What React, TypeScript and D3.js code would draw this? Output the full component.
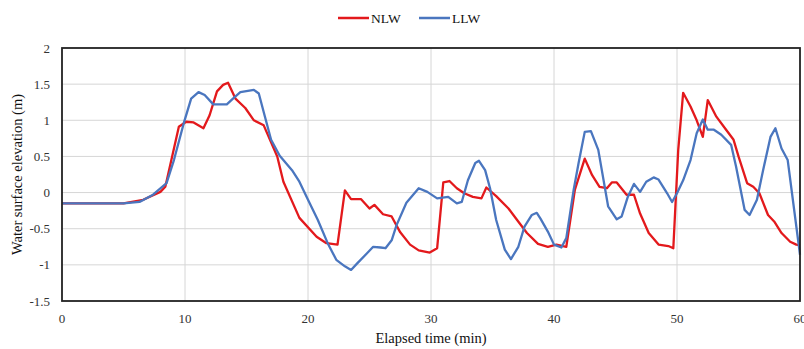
import React from "react";
import * as d3 from "d3";

const width = 804;
const height = 349;
const margin = { left: 62, right: 4, top: 48, bottom: 48 };

// NLW series (time in min, elevation in m)
const nlwTime = [0, 5, 6.6, 8, 8.4, 9.5, 10.1, 10.7, 11.5, 12, 12.6, 13.1, 13.5, 14.1, 14.9, 15.6, 16.4, 17.5, 18, 19.3, 20.7, 21.5, 22.4, 23, 23.5, 24.3, 25, 25.4, 26.1, 26.8, 27.5, 28.3, 29, 29.9, 30.5, 31, 31.5, 32.1, 32.7, 33.4, 34.1, 34.5, 35.3, 36.3, 37, 37.8, 38.7, 39.5, 40.2, 41, 41.7, 42.5, 43.1, 43.7, 44.3, 44.7, 45.1, 45.9, 46.5, 47, 47.7, 48.5, 49.3, 49.7, 50.1, 50.5, 51.1, 51.6, 52.1, 52.5, 53.2, 53.9, 54.6, 55, 55.7, 56.2, 56.7, 57.4, 57.9, 58.5, 59.2, 59.7, 60];
const nlwLevel = [-0.15, -0.15, -0.1, 0.01, 0.08, 0.91, 0.98, 0.97, 0.89, 1.07, 1.4, 1.49, 1.52, 1.3, 1.17, 1.0, 0.93, 0.5, 0.15, -0.35, -0.61, -0.7, -0.72, 0.03, -0.09, -0.09, -0.22, -0.17, -0.3, -0.33, -0.55, -0.72, -0.8, -0.83, -0.77, 0.14, 0.16, 0.06, -0.01, -0.06, -0.08, 0.07, -0.05, -0.22, -0.38, -0.56, -0.71, -0.75, -0.72, -0.75, 0.04, 0.47, 0.24, 0.08, 0.06, 0.14, 0.14, -0.03, -0.03, -0.29, -0.56, -0.72, -0.74, -0.77, 0.59, 1.38, 1.19, 1.0, 0.77, 1.28, 1.05, 0.89, 0.73, 0.5, 0.13, 0.08, -0.01, -0.31, -0.4, -0.56, -0.68, -0.72, -0.73];

// LLW series
const llwTime = [0, 5, 6.3, 7.4, 8.5, 9.1, 9.9, 10.5, 11.1, 11.6, 12.3, 13.4, 13.9, 14.5, 15.6, 16, 16.5, 17, 17.7, 18.7, 19.3, 20, 20.8, 21.6, 22.3, 23, 23.5, 24, 24.8, 25.3, 25.9, 26.3, 26.8, 27.2, 28, 29, 29.7, 30.5, 31.4, 32.1, 32.5, 33, 33.6, 33.9, 34.4, 34.8, 35.3, 36, 36.5, 37.1, 37.6, 38.2, 38.6, 38.9, 39.5, 40, 40.6, 41, 41.6, 42, 42.5, 43, 43.6, 44.4, 45.1, 45.5, 46, 46.5, 47, 47.5, 48.1, 48.5, 49.2, 49.6, 50, 50.5, 51.1, 51.6, 52.1, 52.5, 53, 53.6, 54.4, 54.8, 55.5, 55.9, 56.5, 57, 57.6, 58, 58.5, 59, 60];
const llwLevel = [-0.15, -0.15, -0.13, -0.03, 0.13, 0.45, 0.96, 1.3, 1.39, 1.35, 1.22, 1.22, 1.3, 1.39, 1.42, 1.37, 1.05, 0.73, 0.51, 0.31, 0.15, -0.1, -0.38, -0.7, -0.93, -1.02, -1.07, -0.98, -0.84, -0.75, -0.76, -0.77, -0.66, -0.45, -0.14, 0.06, 0.01, -0.08, -0.06, -0.15, -0.13, 0.17, 0.41, 0.44, 0.31, 0.06, -0.38, -0.79, -0.92, -0.75, -0.47, -0.31, -0.28, -0.36, -0.54, -0.72, -0.76, -0.63, 0.04, 0.41, 0.84, 0.85, 0.59, -0.19, -0.37, -0.33, -0.06, 0.12, 0.01, 0.15, 0.21, 0.18, -0.01, -0.13, -0.01, 0.17, 0.45, 0.82, 1.01, 0.87, 0.87, 0.8, 0.66, 0.36, -0.24, -0.31, -0.1, 0.31, 0.77, 0.89, 0.61, 0.45, -0.86];

const xTicks = [0, 10, 20, 30, 40, 50, 60];
const yTicks = [-1.5, -1, -0.5, 0, 0.5, 1, 1.5, 2];

const series = [
  { name: "NLW", color: "#e3191c", time: nlwTime, level: nlwLevel },
  { name: "LLW", color: "#4a76bf", time: llwTime, level: llwLevel },
];

const font = "'Liberation Serif', 'Times New Roman', serif";

export default function App() {
  const x = d3.scaleLinear().domain([0, 60]).range([margin.left, width - margin.right]);
  const y = d3.scaleLinear().domain([-1.5, 2]).range([height - margin.bottom, margin.top]);

  const line = d3
    .line<[number, number]>()
    .x((d) => x(d[0]))
    .y((d) => y(d[1]));

  return (
    <svg
      width={width}
      height={height}
      style={{ position: "absolute", left: 0, top: 0, background: "#fff" }}
      fontFamily={font}
    >
      {/* grid */}
      {yTicks.slice(1, -1).map((t) => (
        <line key={"gy" + t} x1={x(0)} x2={x(60)} y1={y(t)} y2={y(t)} stroke="#d6d6d6" strokeWidth={1} />
      ))}
      {xTicks.slice(1, -1).map((t) => (
        <line key={"gx" + t} x1={x(t)} x2={x(t)} y1={y(2)} y2={y(-1.5)} stroke="#d6d6d6" strokeWidth={1} />
      ))}

      {/* series */}
      {series.map((s) => (
        <path
          key={s.name}
          d={line(s.time.map((t, i) => [t, s.level[i]] as [number, number])) || ""}
          fill="none"
          stroke={s.color}
          strokeWidth={2.3}
          strokeLinejoin="round"
        />
      ))}

      {/* frame */}
      <rect x={x(0)} y={y(2)} width={x(60) - x(0)} height={y(-1.5) - y(2)} fill="none" stroke="#222" strokeWidth={1.8} />

      {/* tick labels */}
      {yTicks.map((t) => (
        <text key={"ty" + t} x={x(0) - 12} y={y(t)} dy="0.35em" textAnchor="end" fontSize={13} fill="#333">
          {String(t)}
        </text>
      ))}
      {xTicks.map((t) => (
        <text key={"tx" + t} x={x(t)} y={y(-1.5) + 17} dy="0.35em" textAnchor="middle" fontSize={13} fill="#333">
          {String(t)}
        </text>
      ))}

      {/* axis titles */}
      <text x={431} y={343} textAnchor="middle" fontSize={14.5} fill="#111">
        Elapsed time (min)
      </text>
      <text
        transform={`translate(22, ${(y(2) + y(-1.5)) / 2}) rotate(-90)`}
        textAnchor="middle"
        fontSize={14.5}
        fill="#111"
      >
        Water surface elevation (m)
      </text>

      {/* legend */}
      <g transform="translate(338, 18)">
        <line x1={0} x2={31} y1={0} y2={0} stroke={series[0].color} strokeWidth={2.5} />
        <text x={33} y={0} dy="0.35em" fontSize={13.5} fill="#111">NLW</text>
        <line x1={81} x2={112} y1={0} y2={0} stroke={series[1].color} strokeWidth={2.5} />
        <text x={114} y={0} dy="0.35em" fontSize={13.5} fill="#111">LLW</text>
      </g>
    </svg>
  );
}
